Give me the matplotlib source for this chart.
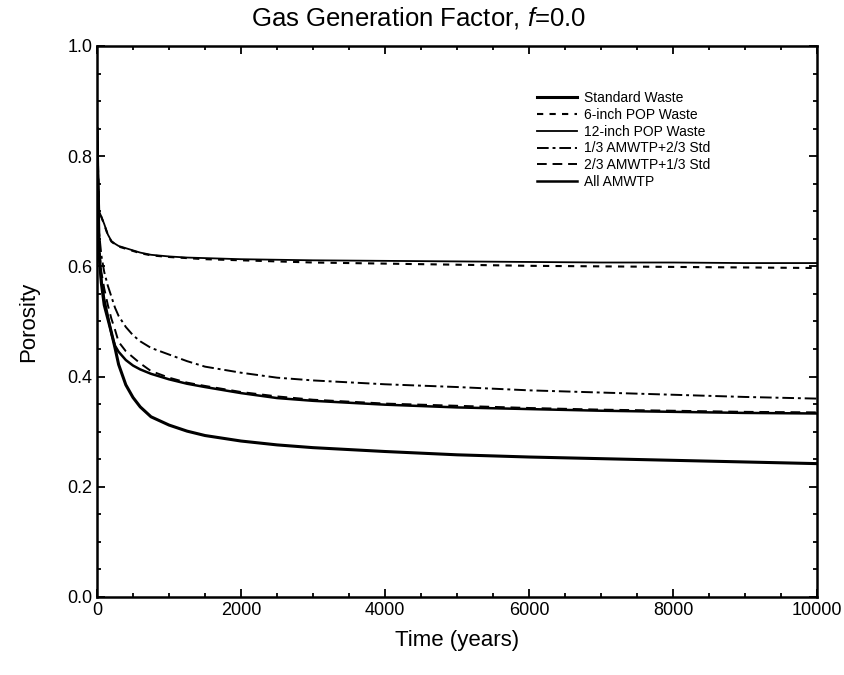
import numpy as np
import matplotlib.pyplot as plt
from matplotlib.ticker import MultipleLocator

plt.rcParams['font.family'] = ['Liberation Sans', 'DejaVu Sans']
plt.rcParams['mathtext.fontset'] = 'custom'
plt.rcParams['mathtext.it'] = 'Liberation Sans:italic'
plt.rcParams['mathtext.rm'] = 'Liberation Sans'

# tempo (anos)
tempo = [0, 30, 60, 100, 150, 200, 250, 300, 400, 500, 600, 750, 1000, 1250, 1500,
         2000, 2500, 3000, 4000, 5000, 6000, 7000, 8000, 9000, 10000]

# porosidade de cada caso
standard = [0.85, 0.62, 0.57, 0.53, 0.505, 0.48, 0.452, 0.422, 0.385, 0.362, 0.345,
            0.327, 0.312, 0.301, 0.293, 0.283, 0.276, 0.271, 0.264, 0.258, 0.254,
            0.251, 0.248, 0.245, 0.242]
pop6 = [0.85, 0.70, 0.69, 0.676, 0.657, 0.645, 0.640, 0.636, 0.632, 0.628, 0.624,
        0.620, 0.617, 0.615, 0.613, 0.611, 0.609, 0.607, 0.605, 0.603, 0.601,
        0.600, 0.599, 0.598, 0.597]
pop12 = [0.85, 0.70, 0.69, 0.677, 0.658, 0.646, 0.641, 0.637, 0.633, 0.629, 0.625,
         0.621, 0.618, 0.616, 0.615, 0.613, 0.612, 0.611, 0.610, 0.609, 0.608,
         0.607, 0.607, 0.606, 0.606]
amwtp13 = [0.85, 0.66, 0.62, 0.59, 0.565, 0.545, 0.525, 0.51, 0.49, 0.475, 0.464,
           0.452, 0.44, 0.428, 0.418, 0.407, 0.398, 0.393, 0.386, 0.381, 0.375,
           0.371, 0.367, 0.363, 0.360]
amwtp23 = [0.85, 0.64, 0.59, 0.56, 0.53, 0.505, 0.485, 0.463, 0.446, 0.435, 0.424,
           0.41, 0.398, 0.389, 0.383, 0.372, 0.364, 0.358, 0.351, 0.347, 0.343,
           0.340, 0.338, 0.336, 0.335]
amwtp_all = [0.85, 0.62, 0.575, 0.54, 0.51, 0.478, 0.456, 0.445, 0.43, 0.42, 0.413,
             0.405, 0.395, 0.387, 0.381, 0.37, 0.361, 0.356, 0.349, 0.344, 0.341,
             0.338, 0.336, 0.334, 0.333]

fig = plt.figure(figsize=(8.45, 6.75), dpi=100)
ax = fig.add_axes([0.1148, 0.1156, 0.8522, 0.8163])

ax.plot(tempo, standard, color='black', lw=2.2, label='Standard Waste')
ax.plot(tempo, pop6, color='black', lw=1.5, ls=(0, (3, 3)), label='6-inch POP Waste')
ax.plot(tempo, pop12, color='black', lw=1.3, label='12-inch POP Waste')
ax.plot(tempo, amwtp13, color='black', lw=1.4, ls=(0, (6, 2, 1.5, 2)), label='1/3 AMWTP+2/3 Std')
ax.plot(tempo, amwtp23, color='black', lw=1.4, ls=(0, (5, 3)), label='2/3 AMWTP+1/3 Std')
ax.plot(tempo, amwtp_all, color='black', lw=1.8, label='All AMWTP')

ax.set_xlim(0, 10000)
ax.set_ylim(0, 1.0)
ax.xaxis.set_major_locator(MultipleLocator(2000))
ax.xaxis.set_minor_locator(MultipleLocator(500))
ax.yaxis.set_major_locator(MultipleLocator(0.2))
ax.yaxis.set_minor_locator(MultipleLocator(0.05))
ax.yaxis.set_major_formatter(plt.FormatStrFormatter('%.1f'))
ax.tick_params(which='both', direction='in', top=True, right=True, labelsize=13, width=1.3)
ax.tick_params(which='major', length=6)
ax.tick_params(which='minor', length=3)
for s in ax.spines.values():
    s.set_linewidth(1.8)

ax.set_xlabel('Time (years)', fontsize=16, labelpad=8)
ax.set_ylabel('Porosity', fontsize=16, labelpad=20)
ax.set_title(r'Gas Generation Factor, $\mathit{f}$=0.0', fontsize=18.5, pad=15, x=0.446)

ax.legend(loc='upper left', bbox_to_anchor=(0.611, 0.918), frameon=False, fontsize=10,
          handlelength=2.9, handletextpad=0.5, labelspacing=0.2,
          borderpad=0, borderaxespad=0)

fig.savefig('out.png', dpi=100)
